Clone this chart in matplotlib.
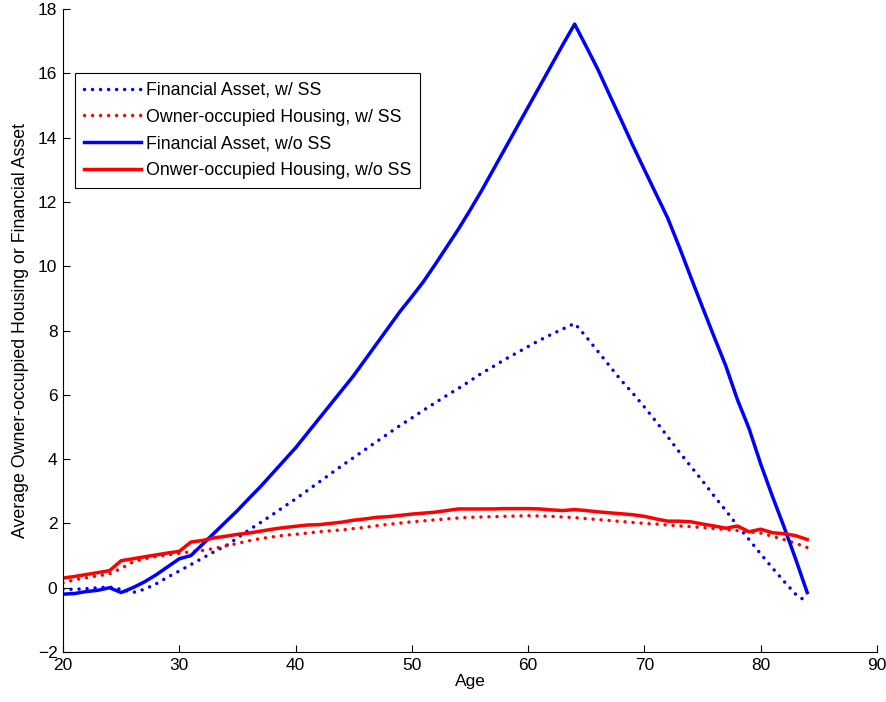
import matplotlib
matplotlib.use("Agg")
import matplotlib.pyplot as plt
import numpy as np

plt.rcParams['font.family'] = ['Liberation Sans', 'DejaVu Sans']

ages = list(range(20, 85))

fa_ss = [-0.05, -0.05, -0.03, 0.0, 0.02, -0.05, -0.15, -0.05, 0.12, 0.33,
         0.52, 0.72, 0.92, 1.12, 1.30, 1.55, 1.80, 2.03, 2.27, 2.52,
         2.76, 3.02, 3.28, 3.54, 3.80, 4.05, 4.30, 4.55, 4.80, 5.05,
         5.28, 5.52, 5.75, 5.98, 6.20, 6.43, 6.67, 6.88, 7.10, 7.30,
         7.50, 7.70, 7.88, 8.05, 8.22, 7.80, 7.35, 6.90, 6.45, 6.05,
         5.62, 5.17, 4.70, 4.22, 3.77, 3.32, 2.85, 2.40, 1.93, 1.50,
         1.05, 0.62, 0.20, -0.20, -0.45]

house_ss = [0.15, 0.25, 0.31, 0.37, 0.43, 0.60, 0.80, 0.90, 0.97, 1.02,
            1.07, 1.12, 1.16, 1.22, 1.30, 1.38, 1.46, 1.53, 1.58, 1.63,
            1.66, 1.70, 1.74, 1.77, 1.80, 1.84, 1.88, 1.93, 1.97, 2.01,
            2.05, 2.08, 2.11, 2.14, 2.17, 2.19, 2.20, 2.21, 2.22, 2.23,
            2.24, 2.23, 2.22, 2.20, 2.18, 2.15, 2.12, 2.09, 2.06, 2.03,
            2.00, 1.98, 1.95, 1.92, 1.90, 1.87, 1.84, 1.81, 1.78, 1.74,
            1.70, 1.60, 1.50, 1.38, 1.25]

fa_noss = [-0.20, -0.18, -0.12, -0.08, 0.00, -0.15, 0.00, 0.18, 0.40, 0.65,
           0.90, 1.00, 1.35, 1.70, 2.05, 2.40, 2.78, 3.15, 3.55, 3.95,
           4.35, 4.80, 5.25, 5.70, 6.15, 6.60, 7.10, 7.60, 8.10, 8.60,
           9.05, 9.52, 10.05, 10.60, 11.15, 11.74, 12.35, 13.00, 13.65, 14.30,
           14.95, 15.60, 16.25, 16.90, 17.53, 16.83, 16.12, 15.33, 14.55, 13.76,
           13.00, 12.25, 11.50, 10.60, 9.65, 8.72, 7.80, 6.90, 5.85, 4.95,
           3.85, 2.85, 1.90, 0.90, -0.15]

house_noss = [0.30, 0.35, 0.41, 0.47, 0.53, 0.84, 0.90, 0.96, 1.02, 1.08,
              1.13, 1.42, 1.47, 1.55, 1.60, 1.66, 1.70, 1.76, 1.82, 1.87,
              1.91, 1.95, 1.96, 2.00, 2.04, 2.10, 2.14, 2.19, 2.21, 2.25,
              2.29, 2.32, 2.35, 2.40, 2.45, 2.45, 2.45, 2.45, 2.46, 2.46,
              2.46, 2.45, 2.42, 2.40, 2.43, 2.40, 2.36, 2.33, 2.30, 2.27,
              2.22, 2.14, 2.07, 2.07, 2.05, 1.98, 1.92, 1.85, 1.92, 1.74,
              1.82, 1.71, 1.68, 1.62, 1.50]

labels = ["Financial Asset, w/ SS", "Owner-occupied Housing, w/ SS",
          "Financial Asset, w/o SS", "Onwer-occupied Housing, w/o SS"]

fig = plt.figure(figsize=(8.86, 7.02), dpi=100)
ax = fig.add_axes([0.0711, 0.0712, 0.9187, 0.916])

lw = 2.5
dot = (0, (0.01, 2.3))
ax.plot(ages, fa_ss, color='#0000ff', lw=lw, linestyle=dot, dash_capstyle='round', label=labels[0])
ax.plot(ages, house_ss, color='#ff0000', lw=lw, linestyle=dot, dash_capstyle='round', label=labels[1])
ax.plot(ages, fa_noss, color='#0000ff', lw=lw, label=labels[2])
ax.plot(ages, house_noss, color='#ff0000', lw=lw, label=labels[3])

ax.set_xlim(20, 90)
ax.set_ylim(-2, 18)
ax.set_xticks(range(20, 91, 10))
ax.set_yticks(range(-2, 19, 2))
ax.spines['top'].set_visible(False)
ax.spines['right'].set_visible(False)
ax.tick_params(direction='in', length=5, width=0.8, labelsize=12.5, pad=4)
ax.set_xlabel("Age", fontsize=12.5, labelpad=1)
ax.set_ylabel("Average Owner-occupied Housing or Financial Asset", fontsize=12.8, labelpad=6)

leg = ax.legend(loc='upper left', bbox_to_anchor=(0.0147, 0.9005), borderaxespad=0,
                fontsize=12.8, handlelength=3.2, fancybox=False, framealpha=1,
                edgecolor='black', labelspacing=0.55, handletextpad=0.3,
                borderpad=0.5)
leg.get_frame().set_linewidth(0.8)

fig.savefig("out.png", dpi=100)
